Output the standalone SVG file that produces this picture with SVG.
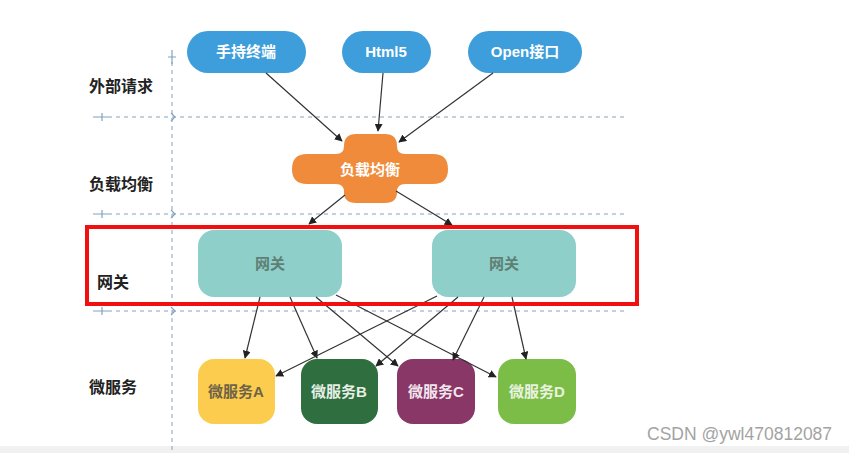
<svg xmlns="http://www.w3.org/2000/svg" width="849" height="453" viewBox="0 0 849 453">
<style>
.lbl{font-family:"Noto Sans CJK SC","Liberation Sans",sans-serif;font-size:16px;font-weight:bold;fill:#222}
.t{font-family:"Liberation Sans","Noto Sans CJK SC",sans-serif;font-size:15px;font-weight:bold;text-anchor:middle}
.dash{stroke:#84a2be;stroke-width:1;stroke-dasharray:4 4;fill:none}
.tick{stroke:#84a2be;stroke-width:1.2;fill:none}
.ln{stroke:#333;stroke-width:1.2;fill:none;marker-end:url(#ah)}
</style>
<defs>
<marker id="ah" viewBox="0 0 10 10" refX="9" refY="5" markerWidth="8" markerHeight="8" markerUnits="userSpaceOnUse" orient="auto">
<path d="M0,0 L10,5 L0,10 Z" fill="#222"/>
</marker>
</defs>
<rect width="849" height="453" fill="#ffffff"/>
<rect x="0" y="446" width="849" height="7" fill="#f1f1f1"/>
<g id="grid">
<line class="dash" x1="172" y1="62" x2="172" y2="450"/>
<line class="dash" x1="108" y1="117" x2="626" y2="117"/>
<line class="dash" x1="108" y1="214" x2="626" y2="214"/>
<line class="dash" x1="108" y1="311" x2="626" y2="311"/>
<path class="tick" d="M172,50 V64 M168,57 H176"/>
<path class="tick" d="M93,117 H108 M102,113 V121"/>
<path class="tick" d="M93,214 H108 M102,210 V218"/>
<path class="tick" d="M93,311 H108 M102,307 V315"/>
<path class="tick" d="M171,113 L175,117 L171,121 M171,210 L175,214 L171,218 M171,307 L175,311 L171,315"/>
</g>
<g id="labels">
<text class="lbl" x="89" y="92">外部请求</text>
<text class="lbl" x="89" y="190">负载均衡</text>
<text class="lbl" x="97" y="288">网关</text>
<text class="lbl" x="89" y="393">微服务</text>
</g>
<g id="n-shouchi"><rect x="187" y="31" width="119" height="42" rx="21" fill="#3d9edb"/><text class="t" x="246" y="57" fill="#fff">手持终端</text></g>
<g id="n-html5"><rect x="342" y="31" width="89" height="42" rx="21" fill="#3d9edb"/><text class="t" x="386" y="57" fill="#fff">Html5</text></g>
<g id="n-open"><rect x="468" y="31" width="114" height="42" rx="21" fill="#3d9edb"/><text class="t" x="525" y="57" fill="#fff">Open接口</text></g>
<g id="n-lb"><path d="M356,134 H385 Q397,134 397,146 Q397,154 405,154 H433 Q448,154 448,169 Q448,184 433,184 H405 Q397,184 397,192 Q397,203 385,203 H356 Q344,203 344,192 Q344,184 336,184 H307 Q292,184 292,169 Q292,154 307,154 H336 Q344,154 344,146 Q344,134 356,134 Z" fill="#ef8b3b"/><text class="t" x="370" y="175" fill="#fff">负载均衡</text></g>
<g id="n-gw1"><rect x="198" y="230" width="144" height="67" rx="16" fill="#8ecfca"/><text class="t" x="270" y="269" fill="#5f7f74">网关</text></g>
<g id="n-gw2"><rect x="432" y="230" width="144" height="67" rx="16" fill="#8ecfca"/><text class="t" x="504" y="269" fill="#5f7f74">网关</text></g>
<g id="n-msa"><rect x="198" y="359" width="77" height="65" rx="16" fill="#fbcc4e"/><text class="t" x="236" y="397" fill="#6e6248">微服务A</text></g>
<g id="n-msb"><rect x="301" y="359" width="77" height="65" rx="16" fill="#2e6e3f"/><text class="t" x="339" y="397" fill="#e6efe6">微服务B</text></g>
<g id="n-msc"><rect x="397" y="359" width="78" height="65" rx="16" fill="#893766"/><text class="t" x="436" y="397" fill="#f2e6ee">微服务C</text></g>
<g id="n-msd"><rect x="498" y="359" width="78" height="65" rx="16" fill="#7bbd47"/><text class="t" x="537" y="397" fill="#e9f3e0">微服务D</text></g>
<g id="connectors">
<line class="ln" x1="266" y1="73" x2="342" y2="141"/>
<line class="ln" x1="383" y1="73" x2="378" y2="131"/>
<line class="ln" x1="493" y1="73" x2="399" y2="142"/>
<line class="ln" x1="345" y1="195" x2="309" y2="224"/>
<line class="ln" x1="396" y1="191" x2="452" y2="225"/>
<line class="ln" x1="260" y1="297" x2="245" y2="358"/>
<line class="ln" x1="290" y1="297" x2="317" y2="358"/>
<line class="ln" x1="316" y1="297" x2="398" y2="366"/>
<line class="ln" x1="336" y1="295" x2="496" y2="377"/>
<line class="ln" x1="437" y1="296" x2="276" y2="376"/>
<line class="ln" x1="458" y1="297" x2="376" y2="366"/>
<line class="ln" x1="484" y1="297" x2="453" y2="360"/>
<line class="ln" x1="512" y1="297" x2="526" y2="359"/>
</g>
<rect id="highlight" x="87" y="227" width="550" height="77" fill="none" stroke="#f01010" stroke-width="4"/>
<text x="647" y="440" font-family="Liberation Sans, sans-serif" font-size="17.5" fill="#a3a3a3">CSDN @ywl470812087</text>
</svg>
